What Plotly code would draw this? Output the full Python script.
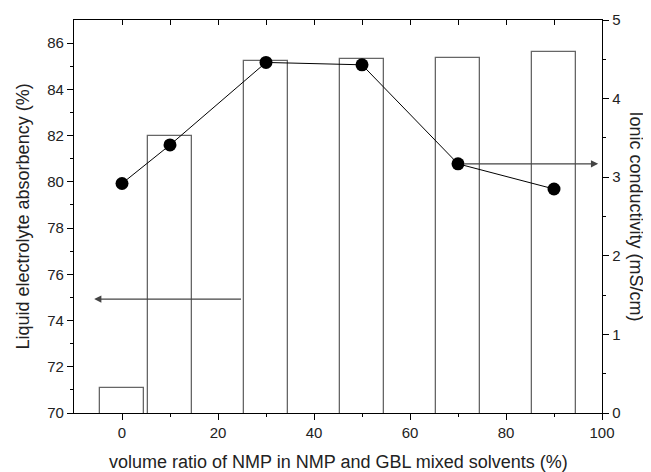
import plotly.graph_objects as go

# data
ratio = [0, 10, 30, 50, 70, 90]
absorbency = [71.1, 82.0, 85.22, 85.3, 85.37, 85.6]
conductivity = [2.92, 3.41, 4.46, 4.43, 3.17, 2.85]

FONT = "Liberation Sans, Arial, sans-serif"

fig = go.Figure()
fig.add_trace(go.Bar(
    x=ratio, y=absorbency, width=9,
    marker=dict(color="white", line=dict(color="#666666", width=1.3)),
    xaxis="x", yaxis="y", showlegend=False,
))
fig.add_trace(go.Scatter(
    x=ratio, y=conductivity, mode="lines+markers",
    line=dict(color="black", width=1),
    marker=dict(color="black", size=13),
    xaxis="x", yaxis="y2", showlegend=False,
))
fig.add_trace(go.Scatter(x=[None], y=[None], xaxis="x2", yaxis="y",
                         showlegend=False, hoverinfo="skip"))

axis_common = dict(showline=True, linecolor="black", linewidth=1.3,
                   showgrid=False, zeroline=False, tickcolor="black", automargin=False,
                   tickfont=dict(family=FONT, size=15, color="#222"))

tfont = dict(family=FONT, size=18, color="#222")

# page body has an 8px margin, so the figure is sized to fit the window
fig.update_layout(
    width=643, height=464,
    margin=dict(l=66, r=49, t=12, b=59),
    plot_bgcolor="white", paper_bgcolor="white",
    bargap=0,
    xaxis=dict(range=[-10, 100], tickmode="array", tickvals=[0, 20, 40, 60, 80, 100],
               ticks="outside", ticklen=6, tickwidth=1.3,
               minor=dict(tickvals=[10, 30, 50, 70, 90], ticks="outside", ticklen=3, tickcolor="black"),
               **axis_common),
    xaxis2=dict(range=[-10, 100], overlaying="x", side="top", anchor="y",
                tickmode="array", tickvals=[0, 10, 20, 30, 40, 50, 60, 70, 80, 90],
                ticks="inside", ticklen=5, tickwidth=1.3, showticklabels=False,
                **axis_common),
    yaxis=dict(range=[70, 87], tickmode="array", tickvals=[70, 72, 74, 76, 78, 80, 82, 84, 86],
               ticks="outside", ticklen=6, tickwidth=1.3,
               minor=dict(tickvals=[71, 73, 75, 77, 79, 81, 83, 85], ticks="outside", ticklen=3, tickcolor="black"),
               **axis_common),
    yaxis2=dict(range=[0, 5], overlaying="y", side="right", anchor="x",
                tickmode="array", tickvals=[0, 1, 2, 3, 4, 5],
                ticks="outside", ticklen=6, tickwidth=1.3,
                minor=dict(tickvals=[0.5, 1.5, 2.5, 3.5, 4.5], ticks="outside", ticklen=3, tickcolor="black"),
                **axis_common),
    annotations=[
        dict(text="volume ratio of NMP in NMP and GBL mixed solvents (%)", xref="paper", yref="paper",
             x=0.5, y=0, xanchor="center", yanchor="middle", yshift=-49, showarrow=False, font=tfont),
        dict(text="Liquid electrolyte absorbency (%)", textangle=-90, xref="paper", yref="paper",
             x=0, y=0.5, xanchor="center", yanchor="middle", xshift=-52, showarrow=False, font=tfont),
        dict(text="Ionic conductivity (mS/cm)", textangle=90, xref="paper", yref="paper",
             x=1, y=0.5, xanchor="center", yanchor="middle", xshift=34, showarrow=False, font=tfont),
        dict(x=-5.8, y=74.93, ax=25.1, ay=74.93, xref="x", yref="y", axref="x", ayref="y",
             showarrow=True, arrowhead=2, arrowsize=1.2, arrowwidth=1.2, arrowcolor="#444", text=""),
        dict(x=99.2, y=3.17, ax=71.0, ay=3.17, xref="x", yref="y2", axref="x", ayref="y2",
             showarrow=True, arrowhead=2, arrowsize=1.2, arrowwidth=1.2, arrowcolor="#444", text=""),
    ],
)

fig.write_html("out.html")
